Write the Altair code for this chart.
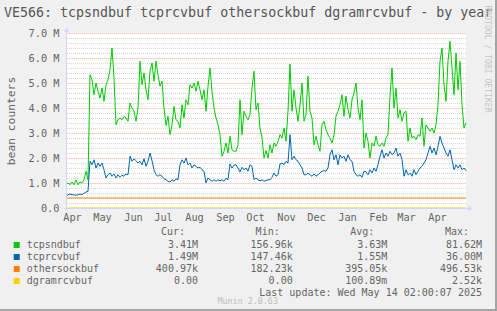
import altair as alt
import pandas as pd

# ---------------- data ----------------
START = "2024-04-09 12:00"
END = "2025-05-14 12:00"
STEP_DAYS = 2

# values in millions, one sample every STEP_DAYS days from START
tcpsndbuf_M = [
    0.96, 1.0, 0.93, 1.04, 0.93, 1.13, 0.93, 1.04, 1.0, 1.13, 1.47, 1.13,
    5.33, 5.13, 4.53, 5.0, 4.67, 4.4, 4.8, 4.27, 4.93, 5.13, 5.53, 6.4, 5.2,
    3.33, 3.53, 3.6, 3.53, 3.67, 3.6, 3.47, 4.2, 4.0, 3.87, 3.47, 4.0, 5.87,
    4.93, 5.4, 4.73, 4.33, 5.47, 5.8, 5.07, 5.87, 5.33, 4.87, 5.07, 4.0,
    3.3, 3.67, 2.93, 3.33, 4.07, 3.53, 3.47, 3.2, 4.13, 3.6, 4.33, 4.13,
    4.93, 4.8, 5.0, 4.67, 5.07, 4.73, 4.33, 4.73, 3.87, 4.87, 5.6, 4.67, 4.0,
    3.6, 3.33, 2.93, 2.07, 2.27, 2.6, 2.2, 2.87, 2.33, 2.27, 2.27, 2.53,
    4.33, 2.93, 3.87, 3.67, 3.53, 3.73, 4.8, 5.47, 3.93, 4.2, 3.2, 2.8, 2.0,
    2.3, 2.0, 2.53, 2.2, 2.6, 2.47, 2.67, 2.93, 2.8, 3.2, 2.67, 3.87,
    5.76, 3.87, 4.73, 4.0, 3.47, 4.13, 5.0, 3.47, 3.73, 5.27, 3.87, 3.6, 2.53,
    2.87, 2.53, 2.27, 3.33, 3.47, 3.13, 2.93, 2.8, 2.6, 2.93, 3.67, 3.87,
    4.13, 4.53, 3.67, 4.47, 3.93, 3.6, 4.33, 4.6, 5.0, 4.0, 3.53, 4.33, 2.4,
    3.0, 2.67, 2.0, 2.6, 2.47, 2.87, 2.53, 2.47, 2.6, 2.47, 2.8, 2.93,
    4.47, 5.6, 4.0, 4.8, 3.6, 3.93, 3.47, 3.8, 3.87, 2.67, 3.2, 2.8, 2.87,
    2.73, 2.93, 2.87, 3.6, 2.47, 3.33, 3.2, 3.07, 3.2, 3.0, 3.33, 4.13,
    5.87, 6.4, 4.93, 4.27, 5.87, 6.67, 5.6, 4.53, 6.2, 4.73, 5.87, 4.13, 3.2, 3.41,
]
tcprcvbuf_M = [
    0.47, 0.53, 0.56, 0.53, 0.53, 0.51, 0.53, 0.56, 0.53, 0.59, 0.64, 0.67,
    1.87, 1.73, 1.93, 1.6, 1.8, 1.67, 1.8, 1.53, 1.2, 1.33, 1.4, 1.27, 1.36,
    1.2, 1.33, 1.23, 1.31, 1.27, 1.36, 1.33, 2.07, 1.87, 1.97, 1.89, 1.8, 1.87,
    1.73, 1.97, 1.67, 1.87, 2.2, 1.89, 1.53, 1.33, 1.27, 1.33, 1.27, 1.17,
    1.13, 1.07, 1.04, 1.13, 1.07, 1.17, 1.13, 1.73, 1.93, 1.8, 2.0, 1.73,
    1.8, 1.6, 1.73, 1.67, 1.6, 1.63, 1.53, 1.47, 1.0, 1.2, 1.13, 1.07, 1.13,
    1.07, 1.13, 1.09, 1.13, 1.07, 1.2, 1.13, 1.76, 1.6, 1.71, 1.73, 1.6,
    1.44, 1.63, 1.53, 1.6, 1.47, 1.73, 1.67, 1.13, 1.2, 1.13, 1.09, 1.13, 1.07,
    1.1, 1.13, 1.13, 1.23, 1.4, 1.27, 1.33, 1.76, 1.8, 1.73, 1.87, 1.8,
    2.93, 1.93, 2.07, 1.93, 1.87, 1.73, 1.6, 1.33, 1.33, 1.4, 1.33, 1.27, 1.36,
    1.27, 1.33, 1.4, 1.47, 1.49, 1.47, 1.6, 2.13, 2.33, 1.93, 2.13, 1.73,
    2.13, 2.0, 2.07, 1.87, 2.13, 1.93, 1.87, 1.47, 1.33, 1.27, 1.33, 1.23, 1.47,
    1.45, 1.33, 1.53, 1.4, 1.6, 1.47, 1.73, 2.07, 2.33, 2.0, 2.2, 2.07,
    2.27, 2.13, 2.2, 2.4, 2.07, 2.2, 1.93, 1.27, 1.53, 1.33, 1.4, 1.27, 1.53,
    1.33, 1.47, 1.6, 1.67, 1.8, 1.93, 2.2, 2.47, 2.2, 2.4, 2.13, 2.47,
    2.87, 2.6, 2.4, 2.2, 2.07, 2.33, 1.93, 1.53, 1.73, 1.6, 1.73, 1.53, 1.6, 1.49,
]
othersockbuf_days = [0, 400]
othersockbuf_M = [0.40, 0.40]
dgramrcvbuf_days = [0, 400]
dgramrcvbuf_M = [0.0, 0.0]

series_names = ["tcpsndbuf", "tcprcvbuf", "othersockbuf", "dgramrcvbuf"]
stat_headers = ["Cur:", "Min:", "Avg:", "Max:"]
cur_vals = ["3.41M", "1.49M", "400.97k", "0.00"]
min_vals = ["156.96k", "147.46k", "182.23k", "0.00"]
avg_vals = ["3.63M", "1.55M", "395.05k", "100.89m"]
max_vals = ["81.62M", "36.00M", "496.53k", "2.52k"]

grid_months = [(2024, 5), (2024, 6), (2024, 7), (2024, 8), (2024, 9), (2024, 10),
               (2024, 11), (2024, 12), (2025, 1), (2025, 2), (2025, 3), (2025, 4), (2025, 5)]
label_months = [(2024, 4), (2024, 5), (2024, 6), (2024, 7), (2024, 8), (2024, 9), (2024, 10),
                (2024, 11), (2024, 12), (2025, 1), (2025, 2), (2025, 3), (2025, 4)]
month_labels = ["Apr", "May", "Jun", "Jul", "Aug", "Sep", "Oct", "Nov", "Dec",
                "Jan", "Feb", "Mar", "Apr"]
y_major_M = [0, 1, 2, 3, 4, 5, 6, 7]

title_text = "VE566: tcpsndbuf tcprcvbuf othersockbuf dgramrcvbuf - by year"
y_title = "bean counters"
last_update = "Last update: Wed May 14 02:00:07 2025"
generator = "Munin 2.0.63"
watermark = "RRDTOOL / TOBI OETIKER"

# ---------------- style ----------------
FONT = "DejaVu Sans Mono"
TXT = "#666666"
COLORS = {"tcpsndbuf": "#00CC00", "tcprcvbuf": "#0066B3",
          "othersockbuf": "#FF8000", "dgramrcvbuf": "#FFCC00"}
MGRID = "#F4A4A4"
GRID = "#D6D6D6"
AXIS = "#CFD6F8"
SHADE = "#A4A4A4"
W, H = 400, 175

# ---------------- frames ----------------
start = pd.Timestamp(START)


def frame(days, vals):
    return pd.DataFrame({
        "date": [start + pd.Timedelta(days=d) for d in days],
        "value": [v * 1e6 for v in vals],
    })


main_days = list(range(0, STEP_DAYS * len(tcpsndbuf_M), STEP_DAYS))
df_snd = frame(main_days, tcpsndbuf_M)
df_rcv = frame(main_days, tcprcvbuf_M)
df_oth = frame(othersockbuf_days, othersockbuf_M)
df_dgr = frame(dgramrcvbuf_days, dgramrcvbuf_M)

end = pd.Timestamp(END)
x_scale = alt.Scale(domain=[
    alt.DateTime(year=start.year, month=start.month, date=start.day, hours=start.hour),
    alt.DateTime(year=end.year, month=end.month, date=end.day, hours=end.hour),
])
y_scale = alt.Scale(domain=[0, 7e6], nice=False, zero=True)

x_enc = alt.X("date:T", scale=x_scale, axis=alt.Axis(
    values=[alt.DateTime(year=y, month=m, date=1) for y, m in grid_months],
    grid=True, gridColor=MGRID, gridDash=[1, 1], gridOpacity=1,
    labels=False, ticks=False, domain=False, title=None))
y_enc = alt.Y("value:Q", scale=y_scale, axis=alt.Axis(
    values=[v * 1e6 for v in y_major_M],
    labelExpr="datum.value == 0 ? '0.0' : format(datum.value / 1e6, '.1f') + ' M'",
    grid=True, gridColor=MGRID, gridDash=[1, 1], gridOpacity=1,
    ticks=False, tickSize=0, domain=False, labelPadding=7,
    labelFont=FONT, labelFontSize=10.3, labelColor=TXT,
    title=y_title, titleFont=FONT, titleFontSize=11.3, titleColor=TXT,
    titleFontWeight="normal", titleAngle=-90, titleX=-55, titleY=H / 2,
    titleAlign="center", titleBaseline="middle"))

# minor grid every 0.2 M (not on the major lines)
minor_df = pd.DataFrame({"value": [i * 0.2e6 for i in range(1, 35) if i % 5]})
minor = alt.Chart(minor_df).mark_rule(color=GRID, strokeDash=[1, 1], strokeWidth=1,
                                      yOffset=0.5).encode(y=y_enc)


def line(df, name):
    return alt.Chart(df).mark_line(color=COLORS[name], strokeWidth=1).encode(x=x_enc, y=y_enc)


lines = [line(df_snd, "tcpsndbuf"), line(df_rcv, "tcprcvbuf"),
         line(df_oth, "othersockbuf"), line(df_dgr, "dgramrcvbuf")]

one = pd.DataFrame({"a": [0]})
# axes lines with arrows
axis_y = alt.Chart(one).mark_rule(color=AXIS, strokeWidth=1, xOffset=0.5).encode(
    x=alt.value(0), y=alt.value(-5), y2=alt.value(H + 2))
axis_x = alt.Chart(one).mark_rule(color=AXIS, strokeWidth=1, yOffset=0.5).encode(
    y=alt.value(H), x=alt.value(-2), x2=alt.value(W + 4))
arrow_up = alt.Chart(one).mark_point(
    shape="triangle-up", filled=True, size=28, color=AXIS, opacity=1).encode(
    x=alt.value(0.5), y=alt.value(-3.5))
arrow_right = alt.Chart(one).mark_point(
    shape="triangle-right", filled=True, size=28, color=AXIS, opacity=1).encode(
    x=alt.value(W + 4.5), y=alt.value(H + 0.5))

# image frame shading (right and bottom edges)
shade_r = alt.Chart(one).mark_rule(color=SHADE, strokeWidth=2).encode(
    x=alt.value(W + 30), y=alt.value(-33), y2=alt.value(H + 103))
shade_b = alt.Chart(one).mark_rule(color=SHADE, strokeWidth=2).encode(
    y=alt.value(H + 102), x=alt.value(-66), x2=alt.value(W + 31))

# month labels centred in each month
mdf = pd.DataFrame({
    "date": [pd.Timestamp(year=y, month=m, day=1) + pd.Timedelta(days=15) for y, m in label_months],
    "label": month_labels,
})
months = alt.Chart(mdf).mark_text(font=FONT, fontSize=10.3, color=TXT, baseline="middle",
                                  align="center").encode(
    x=alt.X("date:T", scale=x_scale, axis=None), y=alt.value(H + 9.5), text="label:N")


# title / watermark / footer
def label_text(txt, x, y, size, color=TXT, align="left", angle=0):
    return alt.Chart(pd.DataFrame({"t": [txt]})).mark_text(
        font=FONT, fontSize=size, color=color, align=align, baseline="middle", angle=angle).encode(
        x=alt.value(x), y=alt.value(y), text="t:N")


title = label_text(title_text, -62, -20, 13.3, color="#555555")
wm = label_text(watermark, 421, 26, 8.1, color="#C6C6C6", align="center", angle=90)
upd = label_text(last_update, 416, 260.3, 10, align="right")
gen = label_text(generator, 181.7, 267.7, 8.4, color="#BDBDBD", align="center")

# legend
names_df = pd.DataFrame({"name": series_names, "i": list(range(len(series_names)))})
leg_sq = alt.Chart(names_df).transform_calculate(py="212 + 12 * datum.i").mark_square(
    size=36, filled=True, opacity=1).encode(
    x=alt.value(-49.3), y=alt.Y("py:Q", scale=None, axis=None),
    color=alt.Color("name:N", scale=alt.Scale(domain=series_names,
                                              range=[COLORS[n] for n in series_names]), legend=None))
leg_names = alt.Chart(names_df).transform_calculate(py="212 + 12 * datum.i").mark_text(
    font=FONT, fontSize=10, color=TXT, align="left", baseline="middle").encode(
    x=alt.value(-39.3), y=alt.Y("py:Q", scale=None, axis=None), text="name:N")

stats = [cur_vals, min_vals, avg_vals, max_vals]
rows = [{"i": i, "j": j, "txt": col[i]} for i in range(len(series_names)) for j, col in enumerate(stats)]
leg_vals = alt.Chart(pd.DataFrame(rows)).transform_calculate(
    px="132 + 94.7 * datum.j", py="212 + 12 * datum.i").mark_text(
    font=FONT, fontSize=10, color=TXT, align="right", baseline="middle").encode(
    x=alt.X("px:Q", scale=None, axis=None), y=alt.Y("py:Q", scale=None, axis=None), text="txt:N")
hdr_df = pd.DataFrame({"h": stat_headers, "j": list(range(len(stat_headers)))})
leg_hdr = alt.Chart(hdr_df).transform_calculate(px="119 + 94.7 * datum.j").mark_text(
    font=FONT, fontSize=10, color=TXT, align="right", baseline="middle").encode(
    x=alt.X("px:Q", scale=None, axis=None), y=alt.value(199), text="h:N")

chart = alt.layer(
    minor, *lines, axis_x, axis_y, arrow_up, arrow_right, months,
    title, wm, upd, gen, leg_sq, leg_names, leg_vals, leg_hdr, shade_r, shade_b,
).properties(
    width=W, height=H,
    autosize=alt.AutoSizeParams(type="none"),
    padding={"left": 66, "top": 33, "right": 31, "bottom": 103},
).configure(background="#F0F0F0").configure_view(fill="#FFFFFF", stroke=None)

chart.save("out.html", embed_options={"renderer": "svg", "actions": False})
